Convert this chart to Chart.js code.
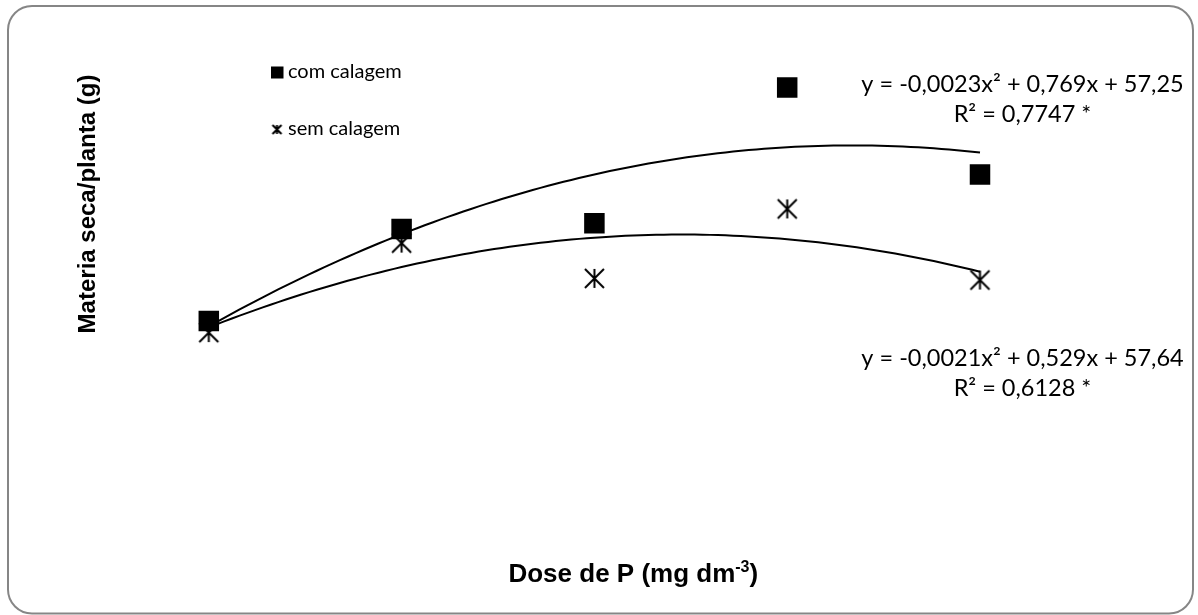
<!DOCTYPE html>
<html>
<head>
<meta charset="utf-8">
<script src="https://cdn.jsdelivr.net/npm/chart.js@4"></script>
<style>
html,body{margin:0;padding:0;background:#fff;}
#wrap{width:1198px;height:615px;position:relative;}
canvas{display:block;}
</style>
</head>
<body>
<div id="wrap"><canvas id="c" width="1198" height="615"></canvas></div>
<script>
// ---- data ----
const doses = [0, 50, 100, 150, 200];
const comCalagem = [58.0, 91.1, 93.1, 142.0, 110.7];
const semCalagem = [53.8, 86.0, 73.3, 98.3, 72.7];
const seriesNames = ['com calagem', 'sem calagem'];
const eqCom = ['y = -0,0023x\u00B2 + 0,769x + 57,25', 'R\u00B2 = 0,7747 *'];
const eqSem = ['y = -0,0021x\u00B2 + 0,529x + 57,64', 'R\u00B2 = 0,6128 *'];
const yTitle = 'Materia seca/planta (g)';
const xTitleParts = ['Dose de P (mg dm', '-3', ')'];

// ---- quadratic least-squares trendline (as the spreadsheet does) ----
function quadFit(xs, ys) {
  const s = [0,0,0,0,0], t = [0,0,0];
  for (let i = 0; i < xs.length; i++) {
    let p = 1;
    for (let k = 0; k < 5; k++) { s[k] += p; if (k < 3) t[k] += p * ys[i]; p *= xs[i]; }
  }
  const A = [[s[0],s[1],s[2],t[0]],[s[1],s[2],s[3],t[1]],[s[2],s[3],s[4],t[2]]];
  for (let i = 0; i < 3; i++) {
    for (let j = i + 1; j < 3; j++) {
      const f = A[j][i] / A[i][i];
      for (let k = i; k < 4; k++) A[j][k] -= f * A[i][k];
    }
  }
  const c = [0,0,0];
  for (let i = 2; i >= 0; i--) {
    let v = A[i][3];
    for (let k = i + 1; k < 3; k++) v -= A[i][k] * c[k];
    c[i] = v / A[i][i];
  }
  return c;
}
function trend(xs, ys) {
  const c = quadFit(xs, ys);
  const lo = Math.min(...xs), hi = Math.max(...xs);
  const pts = [];
  const n = 100;
  for (let i = 0; i <= n; i++) {
    const x = lo + (hi - lo) * i / n;
    pts.push({x: x, y: c[0] + c[1] * x + c[2] * x * x});
  }
  return pts;
}
const toXY = (xs, ys) => xs.map((x, i) => ({x: x, y: ys[i]}));

// star (asterisk) marker
function makeStar(size, lw) {
  const cv = document.createElement('canvas');
  cv.width = size + 4; cv.height = size + 4;
  const g = cv.getContext('2d');
  const c = (size + 4) / 2, h = size / 2;
  g.strokeStyle = '#000'; g.lineWidth = lw; g.lineCap = 'butt';
  g.beginPath();
  g.moveTo(c - h, c - h); g.lineTo(c + h, c + h);
  g.moveTo(c + h, c - h); g.lineTo(c - h, c + h);
  g.moveTo(c, c - h); g.lineTo(c, c + h);
  g.stroke();
  return cv;
}
const starMarker = makeStar(19, 2);

const FONT_CAL = 'Lato, "Open Sans", sans-serif';
const FONT_ARIAL = '"Liberation Sans", Arial, sans-serif';

const decor = {
  id: 'decor',
  beforeDraw(chart) {
    const ctx = chart.ctx;
    ctx.save();
    ctx.fillStyle = '#fff';
    ctx.fillRect(0, 0, chart.width, chart.height);
    ctx.beginPath();
    ctx.roundRect(8, 6, 1185, 607.5, 24);
    ctx.strokeStyle = '#868686';
    ctx.lineWidth = 2;
    ctx.stroke();
    ctx.restore();
  },
  afterDraw(chart) {
    const ctx = chart.ctx;
    ctx.save();
    ctx.fillStyle = '#000';
    // legend
    ctx.fillRect(271, 66.5, 12.5, 12);
    ctx.drawImage(makeStar(9, 2), 277 - 6.5, 129.5 - 6.5);
    ctx.font = '20px ' + FONT_CAL;
    ctx.textAlign = 'left';
    ctx.textBaseline = 'middle';
    ctx.fillText(seriesNames[0], 288, 72);
    ctx.fillText(seriesNames[1], 288, 129);
    // equations
    ctx.font = '23.5px ' + FONT_CAL;
    ctx.textAlign = 'center';
    ctx.fillText(eqCom[0], 1022.5, 84);
    ctx.fillText(eqCom[1], 1022.5, 114);
    ctx.fillText(eqSem[0], 1022.5, 358);
    ctx.fillText(eqSem[1], 1022.5, 388);
    // y title
    ctx.save();
    ctx.translate(95, 204);
    ctx.rotate(-Math.PI / 2);
    ctx.font = 'bold 24px ' + FONT_ARIAL;
    ctx.textAlign = 'center';
    ctx.textBaseline = 'alphabetic';
    ctx.fillText(yTitle, 0, 0);
    ctx.restore();
    // x title with superscript
    const big = 'bold 26px ' + FONT_ARIAL, small = 'bold 16px ' + FONT_ARIAL;
    ctx.textAlign = 'left';
    ctx.textBaseline = 'alphabetic';
    ctx.font = big; const w0 = ctx.measureText(xTitleParts[0]).width, w2 = ctx.measureText(xTitleParts[2]).width;
    ctx.font = small; const w1 = ctx.measureText(xTitleParts[1]).width;
    let x = 633.3 - (w0 + w1 + w2) / 2;
    const base = 582;
    ctx.font = big; ctx.fillText(xTitleParts[0], x, base); x += w0;
    ctx.font = small; ctx.fillText(xTitleParts[1], x, base - 10); x += w1;
    ctx.font = big; ctx.fillText(xTitleParts[2], x, base);
    ctx.restore();
  }
};

new Chart(document.getElementById('c'), {
  type: 'scatter',
  data: {
    datasets: [
      { label: 'tendência com calagem', type: 'line', data: trend(doses, comCalagem),
        borderColor: '#000', borderWidth: 2, pointRadius: 0, fill: false, tension: 0 },
      { label: 'tendência sem calagem', type: 'line', data: trend(doses, semCalagem),
        borderColor: '#000', borderWidth: 2, pointRadius: 0, fill: false, tension: 0 },
      { label: seriesNames[0], data: toXY(doses, comCalagem), pointStyle: 'rect',
        pointRadius: 14.5, backgroundColor: '#000', borderColor: '#000', borderWidth: 0, showLine: false },
      { label: seriesNames[1], data: toXY(doses, semCalagem), pointStyle: starMarker,
        pointRadius: 11, backgroundColor: '#000', borderColor: '#000', showLine: false }
    ]
  },
  options: {
    responsive: false,
    animation: false,
    devicePixelRatio: 1,
    layout: { padding: { left: 131.68, right: 63.76, top: 37.36, bottom: 132.84 } },
    scales: {
      x: { type: 'linear', min: -20, max: 240, display: false },
      y: { type: 'linear', min: 0, max: 160, display: false }
    },
    plugins: { legend: { display: false }, tooltip: { enabled: false } }
  },
  plugins: [decor]
});
</script>
</body>
</html>
